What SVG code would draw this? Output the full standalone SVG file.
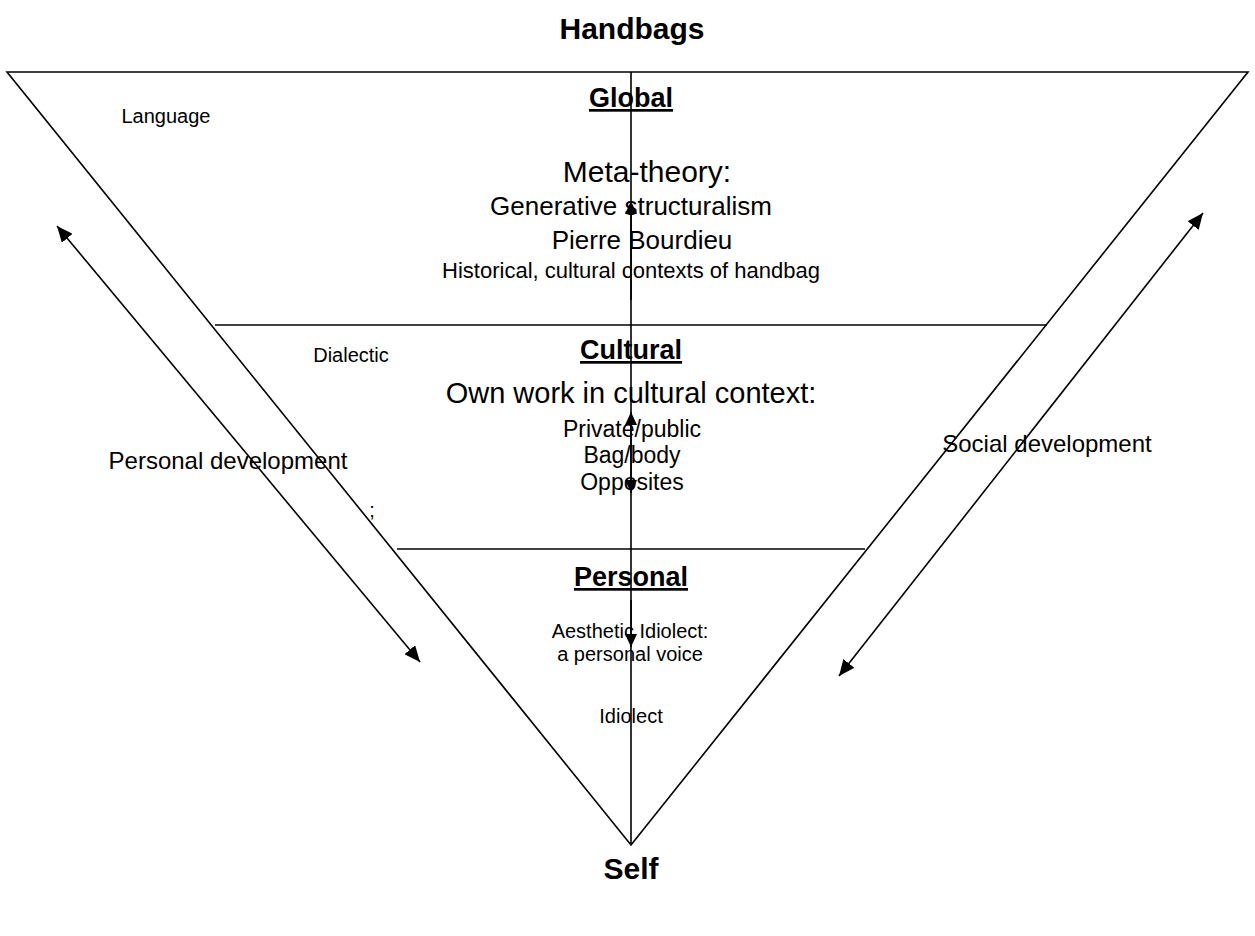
<svg xmlns="http://www.w3.org/2000/svg" width="1255" height="936" viewBox="0 0 1255 936">
<style>
text{font-family:"Liberation Sans",Arial,sans-serif;fill:#000;text-anchor:middle}
.b{font-weight:bold}
.u{text-decoration:underline}
.ln{stroke:#000;stroke-width:1.6;fill:none}
</style>
<defs>
<marker id="ah" viewBox="0 0 16 14" refX="16" refY="7" markerWidth="16" markerHeight="14" markerUnits="userSpaceOnUse" orient="auto-start-reverse">
<path d="M0,0 L16,7 L0,14 Z" fill="#000"/>
</marker>
<marker id="sh" viewBox="0 0 13 12" refX="13" refY="6" markerWidth="13" markerHeight="12" markerUnits="userSpaceOnUse" orient="auto">
<path d="M0,0 L13,6 L0,12 Z" fill="#000"/>
</marker>
</defs>
<rect width="1255" height="936" fill="#fff"/>
<g id="triangle">
<path class="ln" d="M7,72 L1248,72 L631,845 Z"/>
<line class="ln" x1="215" y1="325" x2="1047" y2="325"/>
<line class="ln" x1="397" y1="549" x2="865" y2="549"/>
</g>
<g id="title"><text class="b" x="632" y="39" font-size="30">Handbags</text></g>
<g id="self"><text class="b" x="631" y="879" font-size="30">Self</text></g>
<g id="global">
<text class="b u" x="631" y="107" font-size="27">Global</text>
<text x="166" y="123" font-size="20">Language</text>
<text x="647" y="182" font-size="30">Meta-theory:</text>
<text x="631" y="215" font-size="26">Generative structuralism</text>
<text x="642" y="249" font-size="26">Pierre Bourdieu</text>
<text x="631" y="278" font-size="22">Historical, cultural contexts of handbag</text>
</g>
<g id="cultural">
<text class="b u" x="631" y="359" font-size="27">Cultural</text>
<text x="351" y="362" font-size="20">Dialectic</text>
<text x="631" y="403" font-size="29">Own work in cultural context:</text>
<text x="632" y="437" font-size="23">Private/public</text>
<text x="632" y="463" font-size="23">Bag/body</text>
<text x="632" y="490" font-size="23">Opposites</text>
</g>
<g id="personal">
<text class="b u" x="631" y="586" font-size="27">Personal</text>
<text x="630" y="638" font-size="20">Aesthetic Idiolect:</text>
<text x="630" y="661" font-size="20">a personal voice</text>
<text x="631" y="723" font-size="20">Idiolect</text>
</g>
<g id="personal-development"><text x="228" y="469" font-size="24">Personal development</text></g>
<g id="social-development"><text x="1047" y="452" font-size="24">Social development</text></g>
<g id="semicolon"><text x="372" y="517" font-size="20">;</text></g>
<g id="connectors">
<line class="ln" x1="631" y1="72" x2="631" y2="845"/>
<line class="ln" x1="631" y1="300" x2="631" y2="201" marker-end="url(#sh)"/>
<line class="ln" x1="631" y1="450" x2="631" y2="412" marker-end="url(#sh)"/>
<line class="ln" x1="631" y1="450" x2="631" y2="493" marker-end="url(#sh)"/>
<line class="ln" x1="631" y1="600" x2="631" y2="647" marker-end="url(#sh)"/>
<line class="ln" x1="57" y1="226" x2="420" y2="662" marker-start="url(#ah)" marker-end="url(#ah)"/>
<line class="ln" x1="1203" y1="213" x2="839" y2="676" marker-start="url(#ah)" marker-end="url(#ah)"/>
</g>
</svg>
